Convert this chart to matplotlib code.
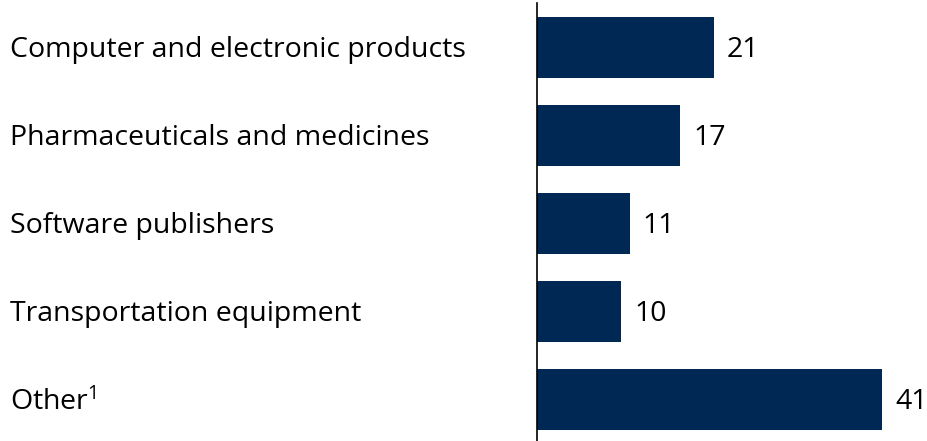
import matplotlib
matplotlib.use("Agg")
import matplotlib.pyplot as plt
import matplotlib.transforms as mtransforms

# Industrias y valores (porcentaje)
categorias = ["Computer and electronic products",
              "Pharmaceuticals and medicines",
              "Software publishers",
              "Transportation equipment",
              "Other$^{1}$"]
valores = [21, 17, 11, 10, 41]

color_barra = "#002855"
plt.rcParams['font.family'] = ['Open Sans', 'DejaVu Sans']
plt.rcParams['mathtext.fontset'] = 'custom'
plt.rcParams['mathtext.rm'] = 'Open Sans'
plt.rcParams['mathtext.it'] = 'Open Sans'
plt.rcParams['mathtext.default'] = 'regular'

fig = plt.figure(figsize=(9.28, 4.41), dpi=100)
ax = fig.add_axes([537/928, 0, 345/928, 438/441])

posiciones = list(range(len(categorias)))
ax.barh(posiciones, valores, height=0.69, color=color_barra)
ax.set_xlim(0, 41)
ax.set_ylim(4.47, -0.506)

for spine in ["top", "right", "bottom"]:
    ax.spines[spine].set_visible(False)
ax.spines["left"].set_linewidth(1.2)
ax.set_xticks([])
ax.set_yticks([])

# Etiquetas de categoria alineadas a la izquierda de la figura
trans = mtransforms.blended_transform_factory(fig.transFigure, ax.transData)
for pos, nombre in zip(posiciones, categorias):
    ax.annotate(nombre, xy=(10/928, pos), xycoords=trans, xytext=(0, -2),
                textcoords="offset points", ha="left", va="center",
                fontsize=20.5, color="black", annotation_clip=False)

# Valores al final de cada barra
for pos, v in zip(posiciones, valores):
    ax.annotate(str(v), xy=(v, pos), xytext=(9.5, -2), textcoords="offset points",
                ha="left", va="center", fontsize=20.5, color="black",
                annotation_clip=False)

fig.savefig("out.png", dpi=100)
